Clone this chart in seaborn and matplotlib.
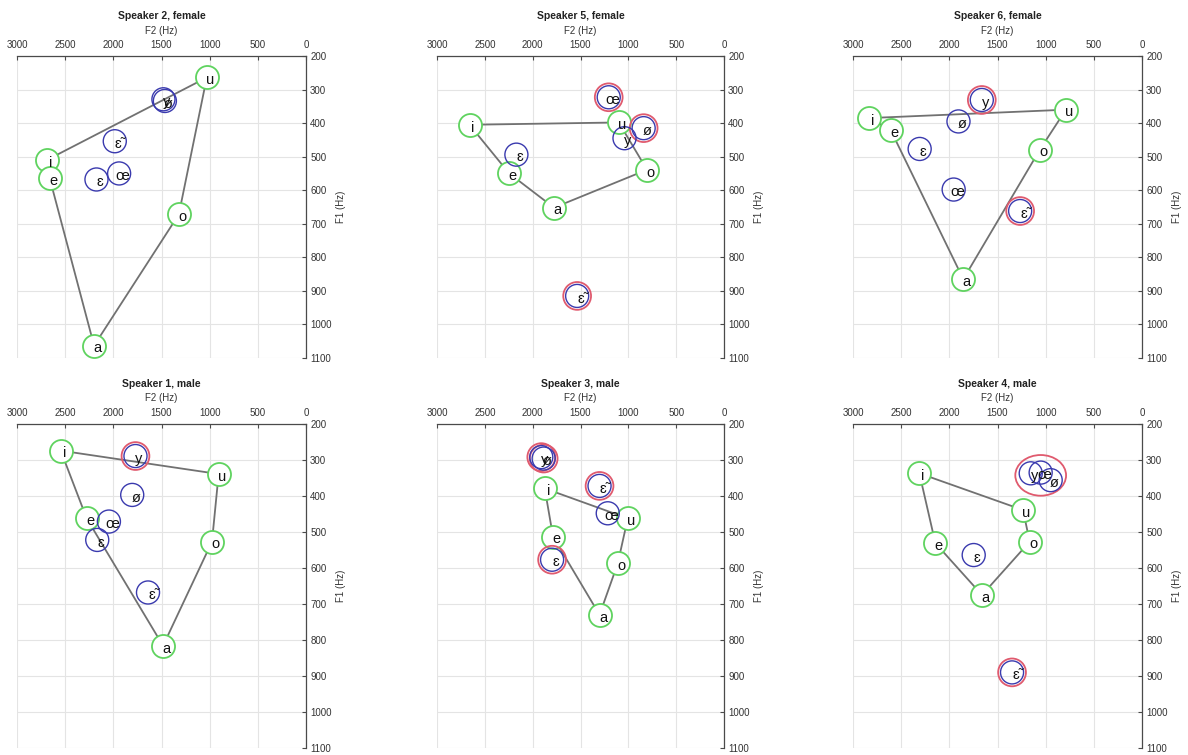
import matplotlib
matplotlib.use("Agg")
import matplotlib.pyplot as plt
from matplotlib.patches import Ellipse
import numpy as np
import pandas as pd
import seaborn as sns

sns.set_theme(style="white")
plt.rcParams["font.family"] = ["Liberation Sans", "DejaVu Sans"]

# Vowel labels shared by all speakers
vowels = ["i", "e", "a", "o", "u", "y", "ø", "œ", "ɛ", "ɛ̃"]
cardinal = ["i", "e", "a", "o", "u"]
polygon_order = ["i", "u", "o", "a", "e", "i"]

# Formant means per speaker (F2, F1 in Hz), in the order of `vowels`
s2_f2 = [2690, 2660, 2200, 1320, 1030, 1480, 1465, 1940, 2175, 1985]
s2_f1 = [510, 565, 1063, 672, 264, 329, 334, 550, 568, 454]
s2_ring = []

s5_f2 = [2660, 2245, 1777, 805, 1100, 1040, 840, 1205, 2170, 1535]
s5_f1 = [405, 550, 652, 539, 398, 445, 415, 323, 494, 915]
s5_ring = ["ø", "œ", "ɛ̃"]

s6_f2 = [2835, 2610, 1855, 1060, 790, 1663, 1905, 1955, 2308, 1265]
s6_f1 = [385, 420, 865, 479, 360, 331, 395, 598, 477, 662]
s6_ring = ["y", "ɛ̃"]

s1_f2 = [2546, 2277, 1484, 976, 907, 1770, 1804, 2046, 2167, 1640]
s1_f1 = [274, 462, 816, 527, 339, 289, 397, 471, 522, 668]
s1_ring = ["y"]

s3_f2 = [1874, 1787, 1301, 1110, 1006, 1910, 1885, 1215, 1797, 1301]
s3_f1 = [379, 513, 730, 587, 462, 292, 296, 448, 577, 372]
s3_ring = ["y", "ø", "ɛ", "ɛ̃"]

s4_f2 = [2311, 2145, 1661, 1166, 1235, 1155, 948, 1052, 1747, 1349]
s4_f1 = [337, 531, 675, 527, 439, 337, 356, 335, 564, 890]
s4_ring = ["ɛ̃"]
s4_group = ["y", "œ", "ø"]

titles = ["Speaker 2, female", "Speaker 5, female", "Speaker 6, female",
          "Speaker 1, male", "Speaker 3, male", "Speaker 4, male"]
speakers = [
    (s2_f2, s2_f1, s2_ring, []),
    (s5_f2, s5_f1, s5_ring, []),
    (s6_f2, s6_f1, s6_ring, []),
    (s1_f2, s1_f1, s1_ring, []),
    (s3_f2, s3_f1, s3_ring, []),
    (s4_f2, s4_f1, s4_ring, s4_group),
]

GREEN = "#5fd35f"
BLUE = "#3a3aae"
RED = "#e05a6e"
LINE = "#717171"
SPINE = "#4a4a4a"

W, H = 1188, 755
fig = plt.figure(figsize=(W / 100, H / 100), dpi=100)

# Axes boxes in pixels: (left, right) per column, (top, bottom) per row
col_x = [(17, 306), (437, 724), (853, 1142)]
row_y = [(56, 358), (424, 748)]


def add_panel(px_left, px_top, px_right, px_bottom):
    return fig.add_axes([px_left / W, 1 - px_bottom / H,
                         (px_right - px_left) / W, (px_bottom - px_top) / H])


for k, (f2, f1, ring, group) in enumerate(speakers):
    r, c = divmod(k, 3)
    ax = add_panel(col_x[c][0], row_y[r][0], col_x[c][1], row_y[r][1])
    df = pd.DataFrame({"vowel": vowels, "F2": f2, "F1": f1})
    df["cardinal"] = df["vowel"].isin(cardinal)
    df["ring"] = df["vowel"].isin(ring)

    # Vowel-space polygon through the cardinal vowels
    poly = df.set_index("vowel").loc[polygon_order].reset_index()
    sns.lineplot(data=poly, x="F2", y="F1", sort=False, estimator=None,
                 color=LINE, linewidth=1.3, ax=ax, zorder=2)

    card = df[df["cardinal"]]
    sns.scatterplot(data=card, x="F2", y="F1", s=275, facecolor="white",
                    edgecolor=GREEN, linewidth=1.3, ax=ax, zorder=3)

    ringed = df[df["ring"]]
    if len(ringed):
        sns.scatterplot(data=ringed, x="F2", y="F1", s=400, facecolor="none",
                        edgecolor=RED, linewidth=1.3, ax=ax, zorder=4)

    other = df[~df["cardinal"]]
    sns.scatterplot(data=other, x="F2", y="F1", s=275, facecolor="none",
                    edgecolor=BLUE, linewidth=1.0, ax=ax, zorder=5)

    if group:
        g = df[df["vowel"].isin(group)]
        cx, cy = g["F2"].mean(), g["F1"].mean()
        ew = g["F2"].max() - g["F2"].min() + 320
        eh = g["F1"].max() - g["F1"].min() + 92
        ax.add_patch(Ellipse((cx, cy), ew, eh, fill=False, edgecolor=RED,
                             linewidth=1.3, zorder=4))

    for _, row in df.iterrows():
        ax.annotate(row["vowel"], (row["F2"], row["F1"]), xytext=(2.5, -2),
                    textcoords="offset points", ha="center", va="center",
                    fontsize=10.5, color="#111111", zorder=6)

    ax.set_xlim(3000, 0)
    ax.set_ylim(1100, 200)
    ax.set_xticks(np.arange(0, 3001, 500))
    ax.set_yticks(np.arange(200, 1101, 100))
    ax.xaxis.tick_top()
    ax.xaxis.set_label_position("top")
    ax.yaxis.tick_right()
    ax.yaxis.set_label_position("right")
    ax.set_xlabel("F2 (Hz)", fontsize=7, color="#333333", labelpad=5)
    ax.set_ylabel("F1 (Hz)", fontsize=7, color="#333333", labelpad=3)
    ax.set_title(titles[k], fontsize=7.5, fontweight="bold", color="#222222",
                 pad=5)
    ax.grid(True, color="#e4e4e4", linewidth=0.8)
    ax.set_axisbelow(True)
    for side in ["left", "bottom"]:
        ax.spines[side].set_visible(False)
    for side in ["top", "right"]:
        ax.spines[side].set_color(SPINE)
        ax.spines[side].set_linewidth(0.9)
    ax.tick_params(axis="both", direction="in", length=3, width=0.8,
                   colors=SPINE, labelcolor="#333333", labelsize=7)
    ax.tick_params(axis="x", pad=4)
    ax.tick_params(axis="y", pad=3)
    if ax.get_legend():
        ax.get_legend().remove()

fig.savefig("out.png", dpi=100)
